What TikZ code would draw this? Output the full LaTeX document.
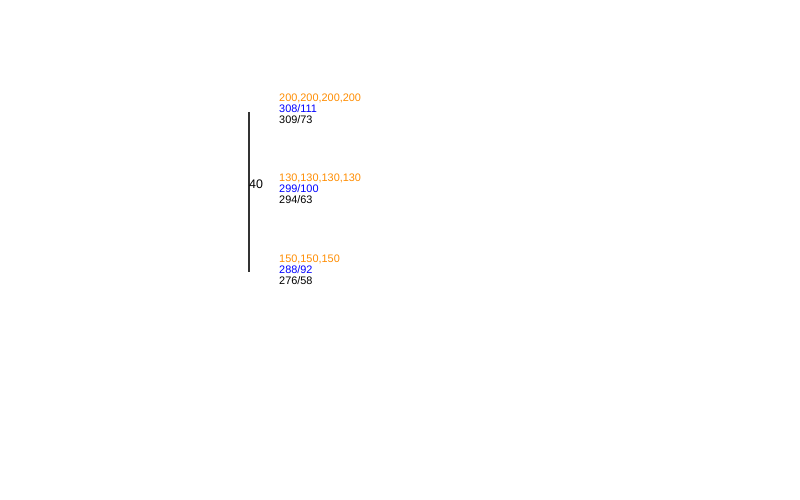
\documentclass[tikz,border=0pt]{standalone}
\usepackage{fontspec}
\setmainfont{Liberation Sans}
\usepackage{tikz}
\usetikzlibrary{positioning}
\definecolor{darkorange}{RGB}{255,140,0}
\tikzset{
  blk/.style  = {anchor=north west, inner sep=0pt, align=left,
                 font=\fontsize{9.3}{9.35}\selectfont},
  val/.style  = {anchor=west, inner sep=0pt, font=\fontsize{10.6}{11}\selectfont},
  axis/.style = {draw=black!80, line width=0.4mm},
}
\begin{document}
\begin{tikzpicture}[x=0.3mm, y=-0.3mm]
  \useasboundingbox (0,0) rectangle (800,500);
  \coordinate (top) at (249,112);
  \coordinate (bot) at (249,272);
  \draw[axis] (top) -- (bot);
  \node[val] (lbl) at (249,184.5) {40};

  \node[blk] (b1) at (279,94) {\textcolor{darkorange}{200,200,200,200}\\\textcolor{blue}{308/111}\\309/73};
  \node[blk] (b2) at (279,174) {\textcolor{darkorange}{130,130,130,130}\\\textcolor{blue}{299/100}\\294/63};
  \node[blk] (b3) at (279,255) {\textcolor{darkorange}{150,150,150}\\\textcolor{blue}{288/92}\\276/58};
\end{tikzpicture}
\end{document}
